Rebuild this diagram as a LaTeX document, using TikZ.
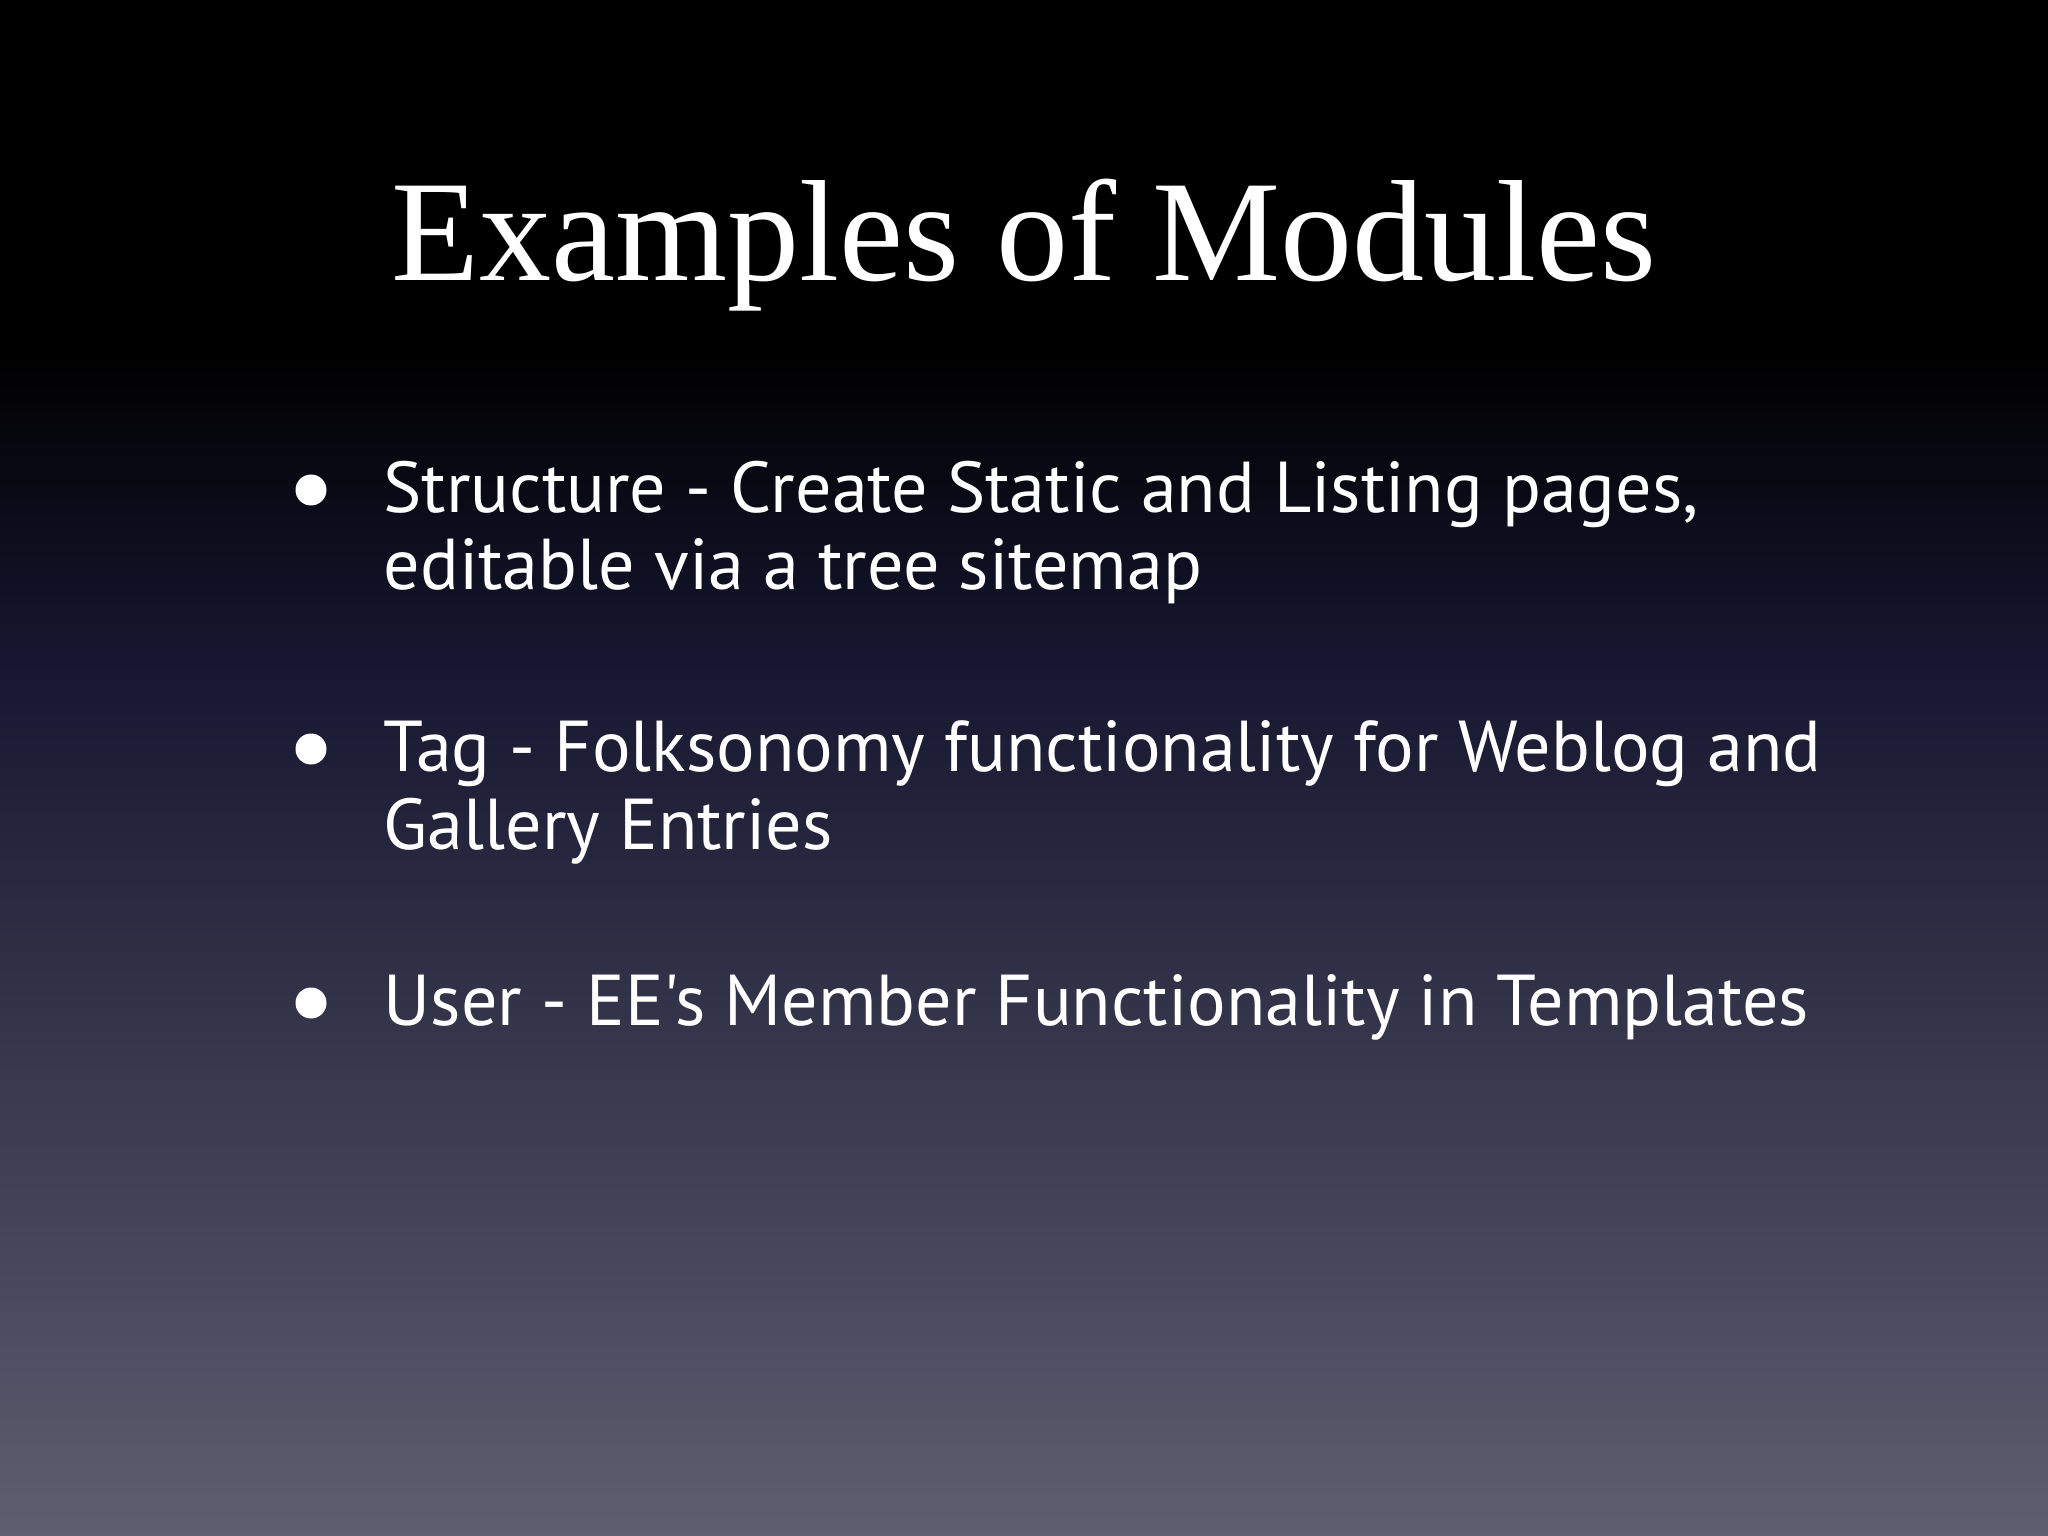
\documentclass[tikz,border=0pt]{standalone}
\usepackage{fontspec}
\setmainfont{Liberation Serif}
\newfontfamily\bodyfont{PT Sans}
\definecolor{bgtop}{RGB}{0,0,0}
\definecolor{bgmid}{RGB}{22,22,48}
\definecolor{bgbot}{RGB}{94,94,112}
\tikzset{
  bodytxt/.style={anchor=base west,inner sep=0pt,text=white,font=\bodyfont\fontsize{20.5}{26}\selectfont},
  bul/.style={circle,fill=white,inner sep=0pt,minimum size=0.31cm}
}
\begin{document}
\begin{tikzpicture}
\fill[bgtop] (0,0) rectangle (20.48,-3.5);
\shade[top color=bgtop,bottom color=bgmid] (0,-3.5) rectangle (20.48,-6.6);
\shade[top color=bgmid,bottom color=bgbot] (0,-6.6) rectangle (20.48,-15.36);
\useasboundingbox (0,0) rectangle (20.48,-15.36);
\node[anchor=base,inner sep=0pt,text=white,font=\fontsize{41}{48}\selectfont] (title) at (10.24,-2.81) {Examples of Modules};
\node[bul] (b1) at (3.11,-4.9) {};
\node[bodytxt] (t1) at (3.83,-5.12) {Structure - Create Static and Listing pages,};
\node[bodytxt] (t1b) at (3.83,-5.90) {editable via a tree sitemap};
\node[bul] (b2) at (3.11,-7.49) {};
\node[bodytxt] (t2) at (3.83,-7.71) {Tag - Folksonomy functionality for Weblog and};
\node[bodytxt] (t2b) at (3.83,-8.49) {Gallery Entries};
\node[bul] (b3) at (3.11,-10.03) {};
\node[bodytxt] (t3) at (3.83,-10.25) {User - EE's Member Functionality in Templates};
\end{tikzpicture}
\end{document}
